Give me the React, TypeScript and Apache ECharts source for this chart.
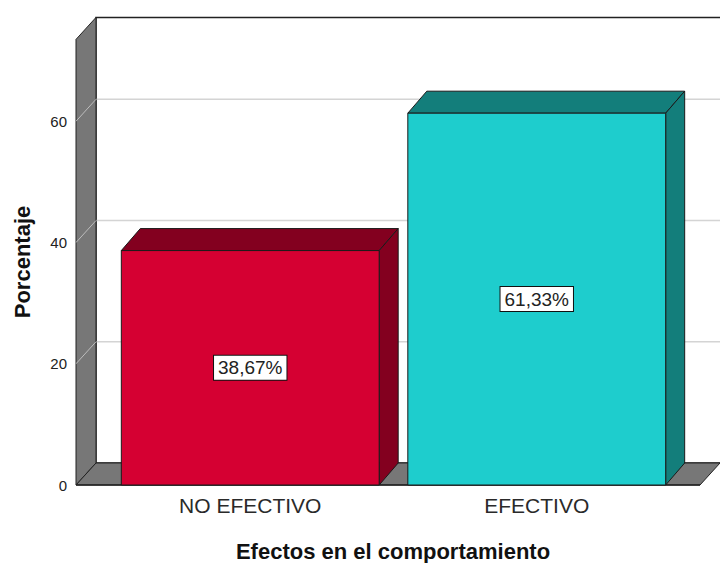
import React, { useEffect, useRef } from "react";
import * as echarts from "echarts";

const categories = ["NO EFECTIVO", "EFECTIVO"];
const percentages = [38.67, 61.33];
const yTicks = [0, 20, 40, 60];
const wallTopValue = 73.5;
const yTitle = "Porcentaje";
const xTitle = "Efectos en el comportamiento";

const frontColors = ["#D50032", "#1ECDCD"];
const darkColors = ["#83001F", "#137E7B"];
const FONT = "Liberation Sans, Arial, sans-serif";

export default function App() {
  const ref = useRef<HTMLDivElement>(null);
  useEffect(() => {
    if (!ref.current) return;
    document.body.style.margin = "0";
    const chart = echarts.init(ref.current, null, { renderer: "svg" });
    const WDX = 20, WDY = -22;
    const BDX = 19, BDY = -22;
    const option: any = {
      animation: false,
      backgroundColor: "#ffffff",
      grid: { left: 107, right: 40, top: 0, bottom: 78, containLabel: false, outerBoundsMode: "none" },
      graphic: [
        {
          type: "text",
          x: 22,
          y: 262,
          rotation: Math.PI / 2,
          style: {
            text: yTitle,
            font: "bold 22px " + FONT,
            fill: "#111",
            align: "center",
            verticalAlign: "middle",
          },
        },
        {
          type: "text",
          x: 393,
          y: 551,
          style: {
            text: xTitle,
            font: "bold 22px " + FONT,
            fill: "#111",
            align: "center",
            verticalAlign: "middle",
          },
        },
      ],
      xAxis: {
        type: "category",
        data: categories,
        axisLine: { show: false },
        axisTick: { show: false },
        axisLabel: { color: "#2a2a2a", fontSize: 21, fontFamily: FONT, margin: 10 },
      },
      yAxis: {
        type: "value",
        min: 0,
        max: 80,
        interval: 20,
        offset: 31,
        axisLine: { show: false },
        axisTick: { show: false },
        splitLine: { show: false },
        axisLabel: {
          color: "#222",
          fontSize: 15,
          fontFamily: FONT,
          margin: 9,
          formatter: (v: number) => (yTicks.indexOf(v) >= 0 ? String(v) : ""),
        },
      },
      series: [
        {
          type: "custom",
          silent: true,
          data: [[0, 0]],
          z: 1,
          renderItem: (params: any, api: any) => {
            const cs = params.coordSys;
            const W = api.getWidth();
            const fl = cs.x - 31;
            const fr = cs.x + cs.width + 20;
            const y0 = api.coord([0, 0])[1];
            const yt = api.coord([0, wallTopValue])[1];
            const children: any[] = [];
            children.push({
              type: "rect",
              shape: { x: fl + WDX, y: yt + WDY, width: W - (fl + WDX) + 5, height: y0 - yt },
              style: { fill: "#ffffff", stroke: "#222", lineWidth: 1.5 },
            });
            yTicks.forEach((t) => {
              if (t === 0) return;
              const y = api.coord([0, t])[1];
              children.push({
                type: "polyline",
                shape: { points: [[fl, y], [fl + WDX, y + WDY], [W + 5, y + WDY]] },
                style: { stroke: "#d4d4d4", lineWidth: 1.5, fill: "none" },
              });
            });
            children.push({
              type: "polygon",
              shape: { points: [[fl, yt], [fl + WDX, yt + WDY], [fl + WDX, y0 + WDY], [fl, y0]] },
              style: { fill: "#777777", stroke: "#222", lineWidth: 1 },
            });
            yTicks.forEach((t) => {
              if (t === 0) return;
              const y = api.coord([0, t])[1];
              children.push({
                type: "line",
                shape: { x1: fl, y1: y, x2: fl + WDX, y2: y + WDY },
                style: { stroke: "#bdbdbd", lineWidth: 1 },
              });
            });
            children.push({
              type: "polygon",
              shape: { points: [[fl, y0], [fl + WDX, y0 + WDY], [fr + WDX, y0 + WDY], [fr, y0]] },
              style: { fill: "#777777", stroke: "#222", lineWidth: 1 },
            });
            children.push({
              type: "line",
              shape: { x1: fl, y1: y0, x2: fr, y2: y0 },
              style: { stroke: "#222", lineWidth: 1.5 },
            });
            return { type: "group", children };
          },
        },
        {
          type: "custom",
          z: 2,
          data: percentages.map((v, i) => [i, v]),
          renderItem: (params: any, api: any) => {
            const i = api.value(0);
            const v = api.value(1);
            const top = api.coord([i, v]);
            const base = api.coord([i, 0]);
            const bw = api.size([1, 0])[0] * 0.9;
            const l = top[0] - bw / 2;
            const r = top[0] + bw / 2;
            const ty = top[1];
            const by = base[1];
            const stroke = "#1a1a1a";
            const label = v.toFixed(2).replace(".", ",") + "%";
            return {
              type: "group",
              children: [
                {
                  type: "polygon",
                  shape: { points: [[l, ty], [l + BDX, ty + BDY], [r + BDX, ty + BDY], [r, ty]] },
                  style: { fill: darkColors[i], stroke, lineWidth: 1 },
                },
                {
                  type: "polygon",
                  shape: { points: [[r, ty], [r + BDX, ty + BDY], [r + BDX, by + BDY], [r, by]] },
                  style: { fill: darkColors[i], stroke, lineWidth: 1 },
                },
                {
                  type: "rect",
                  shape: { x: l, y: ty, width: bw, height: by - ty },
                  style: { fill: frontColors[i], stroke, lineWidth: 1 },
                },
                {
                  type: "text",
                  x: top[0],
                  y: (ty + by) / 2,
                  style: {
                    text: label,
                    fill: "#222",
                    font: "19px " + FONT,
                    align: "center",
                    verticalAlign: "middle",
                    backgroundColor: "#ffffff",
                    borderColor: "#111",
                    borderWidth: 1,
                    padding: [3, 4, 2, 4],
                  },
                },
              ],
            };
          },
        },
      ],
    };
    chart.setOption(option);
    return () => chart.dispose();
  }, []);
  return <div ref={ref} style={{ width: 720, height: 563 }} />;
}
